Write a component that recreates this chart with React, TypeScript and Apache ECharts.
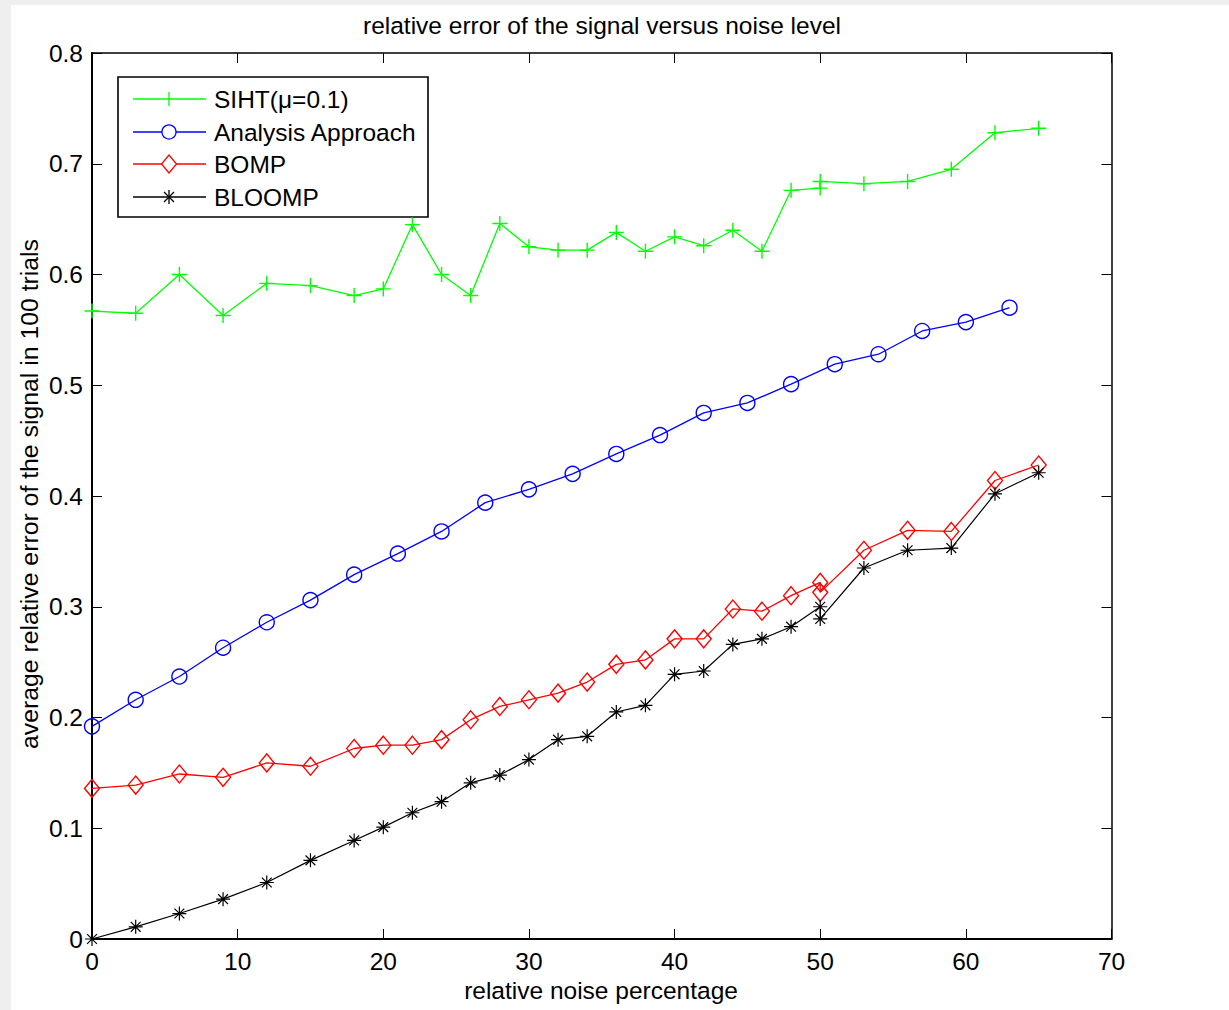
import React, { useEffect, useRef } from "react";
import * as echarts from "echarts";

// Noise levels (%) at which the block-sparse methods were evaluated
const noiseX = [0, 3, 6, 9, 12, 15, 18, 20, 22, 24, 26, 28, 30, 32, 34, 36, 38, 40, 42, 44, 46, 48, 50, 50, 53, 56, 59, 62, 65];
// Noise levels (%) for the analysis approach
const analysisX = [0, 3, 6, 9, 12, 15, 18, 21, 24, 27, 30, 33, 36, 39, 42, 45, 48, 51, 54, 57, 60, 63];

// Average relative error over 100 trials
const sihtErr = [0.567, 0.565, 0.6, 0.563, 0.592, 0.59, 0.581, 0.587, 0.645, 0.6, 0.581, 0.646, 0.625, 0.622, 0.622, 0.638, 0.621, 0.634, 0.626, 0.64, 0.621, 0.676, 0.678, 0.684, 0.682, 0.684, 0.695, 0.728, 0.732];
const analysisErr = [0.192, 0.216, 0.237, 0.263, 0.286, 0.306, 0.329, 0.348, 0.368, 0.394, 0.406, 0.42, 0.438, 0.455, 0.475, 0.484, 0.501, 0.519, 0.528, 0.549, 0.557, 0.57];
const bompErr = [0.136, 0.139, 0.149, 0.146, 0.159, 0.156, 0.172, 0.175, 0.175, 0.18, 0.198, 0.21, 0.216, 0.222, 0.232, 0.248, 0.252, 0.271, 0.271, 0.298, 0.296, 0.31, 0.322, 0.313, 0.351, 0.369, 0.368, 0.414, 0.428];
const bloompErr = [0, 0.011, 0.023, 0.036, 0.051, 0.071, 0.089, 0.101, 0.114, 0.124, 0.141, 0.148, 0.162, 0.18, 0.183, 0.205, 0.211, 0.239, 0.242, 0.266, 0.271, 0.282, 0.3, 0.289, 0.335, 0.351, 0.353, 0.402, 0.421];

const seriesNames = ["SIHT(\u03bc=0.1)", "Analysis Approach", "BOMP", "BLOOMP"];
const seriesColors = ["#00ff00", "#0000ff", "#ff0000", "#000000"];

const FONT = "'Liberation Sans', Arial, Helvetica, sans-serif";
const FS = 24.5;
const PLUS = "path://M0,-1L0,1M-1,0L1,0";
const STAR = "path://M0,-1L0,1M-1,0L1,0M-0.7,-0.7L0.7,0.7M-0.7,0.7L0.7,-0.7";

function pairs(xs: number[], ys: number[]) {
  return xs.map((x, i) => [x, ys[i]]);
}

function legendMarker(kind: string, cx: number, cy: number, color: string): any[] {
  const st = { stroke: color, lineWidth: 1.3, fill: "none" };
  if (kind === "plus") {
    return [
      { type: "line", shape: { x1: cx, y1: cy - 7, x2: cx, y2: cy + 7 }, style: st },
    ];
  }
  if (kind === "circle") {
    return [{ type: "circle", shape: { cx, cy, r: 7 }, style: { ...st, fill: "#fff" } }];
  }
  if (kind === "diamond") {
    return [
      {
        type: "polygon",
        shape: { points: [[cx, cy - 9], [cx + 7.5, cy], [cx, cy + 9], [cx - 7.5, cy]] },
        style: { ...st, fill: "#fff" },
      },
    ];
  }
  return [
    { type: "line", shape: { x1: cx, y1: cy - 7, x2: cx, y2: cy + 7 }, style: st },
    { type: "line", shape: { x1: cx - 5, y1: cy - 5, x2: cx + 5, y2: cy + 5 }, style: st },
    { type: "line", shape: { x1: cx - 5, y1: cy + 5, x2: cx + 5, y2: cy - 5 }, style: st },
  ];
}

function makeTick() {
  return { inside: true, length: 10, lineStyle: { color: "#000", width: 1 } };
}

export default function App() {
  const ref = useRef<HTMLDivElement>(null);

  useEffect(() => {
    if (!ref.current) return;
    const chart = echarts.init(ref.current, undefined, { renderer: "svg" });

    const markerKinds = ["plus", "circle", "diamond", "star"];
    const rowY = [99, 132, 164, 197];
    const legendChildren: any[] = [
      {
        type: "rect",
        shape: { x: 118, y: 77, width: 310, height: 140 },
        style: { fill: "#fff", stroke: "#000", lineWidth: 1.6 },
      },
    ];
    seriesNames.forEach((name, i) => {
      const y = rowY[i];
      legendChildren.push({
        type: "line",
        shape: { x1: 133, y1: y, x2: 206, y2: y },
        style: { stroke: seriesColors[i], lineWidth: 1.3 },
      });
      legendChildren.push(...legendMarker(markerKinds[i], 169, y, seriesColors[i]));
      legendChildren.push({
        type: "text",
        x: 214,
        y,
        style: {
          text: name,
          font: `${FS}px ${FONT}`,
          fill: "#000",
          textAlign: "left",
          textVerticalAlign: "middle",
        },
      });
    });

    const axisLabel = { fontSize: FS, color: "#000", fontFamily: FONT };

    chart.setOption({
      animation: false,
      backgroundColor: "#efefef",
      grid: { left: 92, right: 117.5, top: 53, bottom: 71, containLabel: false },
      xAxis: [
        {
          type: "value",
          min: 0,
          max: 70,
          interval: 10,
          position: "bottom",
          axisLine: { show: true, onZero: false, lineStyle: { color: "#000", width: 2 } },
          axisTick: makeTick(),
          axisLabel: { ...axisLabel, margin: 10 },
          splitLine: { show: false },
        },
        {
          type: "value",
          min: 0,
          max: 70,
          interval: 10,
          position: "top",
          axisLine: { show: true, onZero: false, lineStyle: { color: "#000", width: 1.5 } },
          axisTick: makeTick(),
          axisLabel: { show: false },
          splitLine: { show: false },
        },
      ],
      yAxis: [
        {
          type: "value",
          min: 0,
          max: 0.8,
          interval: 0.1,
          position: "left",
          axisLine: { show: true, onZero: false, lineStyle: { color: "#000", width: 2 } },
          axisTick: makeTick(),
          axisLabel: {
            ...axisLabel,
            margin: 9,
            formatter: (v: number) => String(Number(v.toFixed(1))),
          },
          splitLine: { show: false },
        },
        {
          type: "value",
          min: 0,
          max: 0.8,
          interval: 0.1,
          position: "right",
          axisLine: { show: true, onZero: false, lineStyle: { color: "#000", width: 1.5 } },
          axisTick: makeTick(),
          axisLabel: { show: false },
          splitLine: { show: false },
        },
      ],
      graphic: [
        {
          type: "rect",
          z: -10,
          shape: { x: 11, y: 5, width: 1218, height: 1005 },
          style: { fill: "#fff" },
        },
        {
          type: "text",
          x: 602,
          y: 25,
          style: {
            text: "relative error of the signal versus noise level",
            font: `${FS}px ${FONT}`,
            fill: "#000",
            textAlign: "center",
            textVerticalAlign: "middle",
          },
        },
        {
          type: "text",
          x: 601,
          y: 990,
          style: {
            text: "relative noise percentage",
            font: `${FS}px ${FONT}`,
            fill: "#000",
            textAlign: "center",
            textVerticalAlign: "middle",
          },
        },
        {
          type: "text",
          x: 29,
          y: 494,
          rotation: Math.PI / 2,
          style: {
            text: "average relative error of the signal in 100 trials",
            font: `24.8px ${FONT}`,
            fill: "#000",
            textAlign: "center",
            textVerticalAlign: "middle",
          },
        },
        { type: "group", z: 100, children: legendChildren },
      ],
      series: [
        {
          name: seriesNames[0],
          type: "line",
          data: pairs(noiseX, sihtErr),
          symbol: PLUS,
          symbolSize: 15,
          lineStyle: { color: seriesColors[0], width: 1.3 },
          itemStyle: { color: "transparent", borderColor: seriesColors[0], borderWidth: 1.4 },
        },
        {
          name: seriesNames[1],
          type: "line",
          data: pairs(analysisX, analysisErr),
          symbol: "circle",
          symbolSize: 15,
          lineStyle: { color: seriesColors[1], width: 1.3 },
          itemStyle: { color: "transparent", borderColor: seriesColors[1], borderWidth: 1.4 },
        },
        {
          name: seriesNames[2],
          type: "line",
          data: pairs(noiseX, bompErr),
          symbol: "diamond",
          symbolSize: [15, 18],
          lineStyle: { color: seriesColors[2], width: 1.3 },
          itemStyle: { color: "transparent", borderColor: seriesColors[2], borderWidth: 1.4 },
        },
        {
          name: seriesNames[3],
          type: "line",
          data: pairs(noiseX, bloompErr),
          symbol: STAR,
          symbolSize: 14,
          lineStyle: { color: seriesColors[3], width: 1.2 },
          itemStyle: { color: "transparent", borderColor: seriesColors[3], borderWidth: 1.2 },
        },
      ],
    });

    return () => chart.dispose();
  }, []);

  return (
    <div
      ref={ref}
      style={{ position: "absolute", left: 0, top: 0, width: 1229, height: 1010 }}
    />
  );
}
